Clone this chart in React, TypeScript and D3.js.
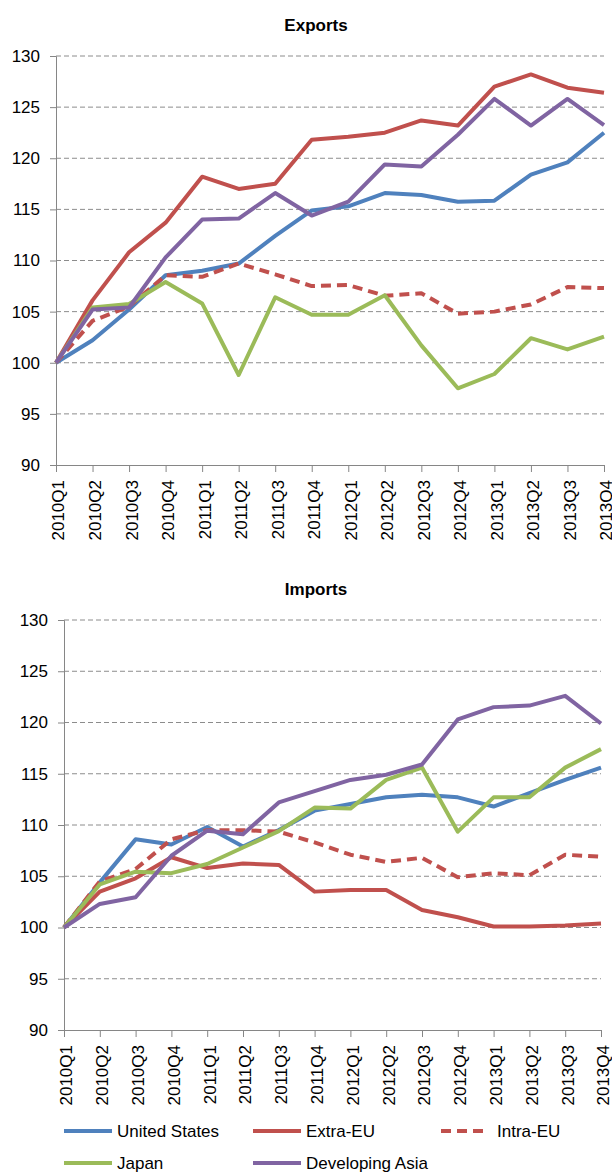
import React, { useEffect, useRef } from 'react';
import * as d3 from 'd3';

const quarters = [
  '2010Q1', '2010Q2', '2010Q3', '2010Q4',
  '2011Q1', '2011Q2', '2011Q3', '2011Q4',
  '2012Q1', '2012Q2', '2012Q3', '2012Q4',
  '2013Q1', '2013Q2', '2013Q3', '2013Q4'
];
const yTicks = [90, 95, 100, 105, 110, 115, 120, 125, 130];

// Exports
const expUS = [100, 102.2, 105.2, 108.55, 109.0, 109.7, 112.4, 114.9, 115.3, 116.6, 116.4, 115.75, 115.85, 118.4, 119.6, 122.5];
const expExtra = [100, 106.1, 110.8, 113.7, 118.2, 117.0, 117.5, 121.8, 122.1, 122.5, 123.7, 123.2, 127.0, 128.2, 126.9, 126.4];
const expIntra = [100, 104.1, 105.5, 108.55, 108.4, 109.7, 108.65, 107.5, 107.6, 106.55, 106.8, 104.8, 105.0, 105.7, 107.4, 107.3];
const expJapan = [100, 105.4, 105.75, 107.9, 105.8, 98.8, 106.4, 104.7, 104.7, 106.6, 101.7, 97.5, 98.9, 102.4, 101.3, 102.55];
const expAsia = [100, 105.2, 105.4, 110.3, 114.0, 114.1, 116.6, 114.4, 115.75, 119.4, 119.2, 122.3, 125.8, 123.2, 125.8, 123.25];

// Imports
const impUS = [100, 104.4, 108.6, 108.1, 109.8, 107.9, 109.5, 111.4, 112.05, 112.7, 112.95, 112.7, 111.8, 113.1, 114.4, 115.6];
const impExtra = [100, 103.5, 104.8, 106.85, 105.8, 106.25, 106.1, 103.5, 103.65, 103.65, 101.7, 101.0, 100.1, 100.1, 100.2, 100.4];
const impIntra = [100, 104.5, 105.7, 108.6, 109.5, 109.5, 109.35, 108.3, 107.1, 106.4, 106.8, 104.9, 105.3, 105.1, 107.1, 106.9];
const impJapan = [100, 104.2, 105.45, 105.3, 106.2, 107.8, 109.4, 111.7, 111.6, 114.4, 115.6, 109.35, 112.7, 112.7, 115.6, 117.4];
const impAsia = [100, 102.3, 102.95, 107.0, 109.45, 109.1, 112.2, 113.3, 114.4, 114.9, 115.9, 120.3, 121.5, 121.65, 122.6, 119.9];

const seriesNames = ['United States', 'Extra-EU', 'Intra-EU', 'Japan', 'Developing Asia'];
const colors = ['#4F81BD', '#C0504D', '#C0504D', '#9BBB59', '#8064A2'];
const dashes = [null, null, '10,6', null, null];

const FONT = '"Liberation Sans", Arial, sans-serif';

const App = () => {
  const ref = useRef<SVGSVGElement>(null);

  useEffect(() => {
    const svg = d3.select(ref.current);
    svg.selectAll('*').remove();

    const panels = [
      { title: 'Exports', data: [expUS, expExtra, expIntra, expJapan, expAsia], left: 56, right: 604, top: 56, bottom: 465, titleY: 31 },
      { title: 'Imports', data: [impUS, impExtra, impIntra, impJapan, impAsia], left: 64, right: 601, top: 620, bottom: 1030, titleY: 595 }
    ];

    panels.forEach(p => {
      const g = svg.append('g');
      const x = d3.scalePoint().domain(quarters).range([p.left, p.right]);
      const y = d3.scaleLinear().domain([90, 130]).range([p.bottom, p.top]);

      g.append('text')
        .attr('x', 316)
        .attr('y', p.titleY)
        .attr('text-anchor', 'middle')
        .attr('font-family', FONT)
        .attr('font-weight', 'bold')
        .attr('font-size', 17)
        .text(p.title);

      // grid
      g.append('g')
        .selectAll('line')
        .data(yTicks.filter(t => t !== 90))
        .join('line')
        .attr('x1', p.left)
        .attr('x2', p.right)
        .attr('y1', d => y(d))
        .attr('y2', d => y(d))
        .attr('stroke', '#8c8c8c')
        .attr('stroke-width', 1)
        .attr('stroke-dasharray', '5,3');

      // y axis
      const ya = g.append('g')
        .attr('transform', `translate(${p.left},0)`)
        .call(d3.axisLeft(y).tickValues(yTicks).tickSize(6).tickPadding(10));
      ya.select('.domain').attr('stroke', '#868686');
      ya.selectAll('.tick line').attr('stroke', '#868686');
      ya.selectAll('.tick text')
        .attr('font-family', FONT)
        .attr('font-size', 17)
        .attr('fill', '#000');

      // x axis
      const xa = g.append('g')
        .attr('transform', `translate(0,${p.bottom})`)
        .call(d3.axisBottom(x).tickSize(7).tickSizeOuter(0));
      xa.select('.domain').attr('stroke', '#868686');
      xa.selectAll('.tick line').attr('stroke', '#868686');
      xa.selectAll('.tick text')
        .attr('font-family', FONT)
        .attr('font-size', 17)
        .attr('fill', '#000')
        .attr('text-anchor', 'end')
        .attr('dy', '0.35em')
        .attr('transform', 'translate(2,15) rotate(-90)')
        .attr('x', 0)
        .attr('y', 0);

      const line = d3.line<number>()
        .x((_, i) => x(quarters[i]) as number)
        .y(d => y(d));

      p.data.forEach((vals, i) => {
        g.append('path')
          .datum(vals)
          .attr('d', line)
          .attr('fill', 'none')
          .attr('stroke', colors[i])
          .attr('stroke-width', 4)
          .attr('stroke-linejoin', 'round')
          .attr('stroke-dasharray', dashes[i]);
      });
    });

    // legend
    const legendPos = [
      { x: 64, y: 1131 },
      { x: 253, y: 1131 },
      { x: 441, y: 1131 },
      { x: 64, y: 1163 },
      { x: 253, y: 1163 }
    ];
    const lg = svg.append('g');
    seriesNames.forEach((name, i) => {
      const pos = legendPos[i];
      lg.append('line')
        .attr('x1', pos.x)
        .attr('x2', pos.x + 48)
        .attr('y1', pos.y)
        .attr('y2', pos.y)
        .attr('stroke', colors[i])
        .attr('stroke-width', 4)
        .attr('stroke-dasharray', dashes[i]);
      lg.append('text')
        .attr('x', pos.x + (dashes[i] ? 56 : 53))
        .attr('y', pos.y + 6)
        .attr('font-family', FONT)
        .attr('font-size', 17)
        .text(name);
    });
  }, []);

  return (
    <svg
      ref={ref}
      width={612}
      height={1173}
      style={{ position: 'absolute', left: 0, top: 0, background: '#fff' }}
    />
  );
};

export default App;
